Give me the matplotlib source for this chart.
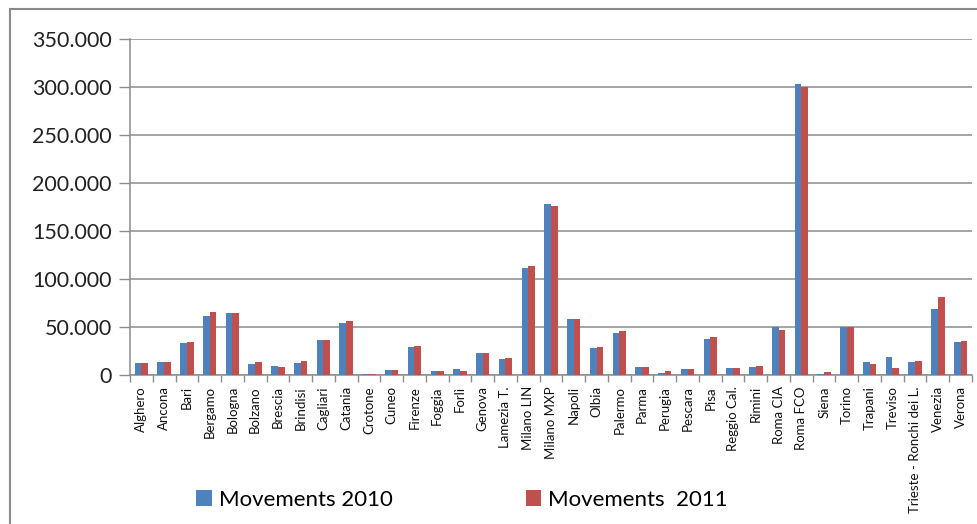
import matplotlib
matplotlib.use("Agg")
import matplotlib.pyplot as plt
import numpy as np
from matplotlib.ticker import FuncFormatter, FixedLocator
from matplotlib.patches import Rectangle

plt.rcParams['font.family'] = ['Lato', 'DejaVu Sans']

# Airport movements, 2010 vs 2011
airports = ["Alghero", "Ancona", "Bari", "Bergamo", "Bologna", "Bolzano", "Brescia",
            "Brindisi", "Cagliari", "Catania", "Crotone", "Cuneo", "Firenze", "Foggia",
            "Forlì", "Genova", "Lamezia T.", "Milano LIN", "Milano MXP", "Napoli", "Olbia",
            "Palermo", "Parma", "Perugia", "Pescara", "Pisa", "Reggio Cal.", "Rimini",
            "Roma CIA", "Roma FCO", "Siena", "Torino", "Trapani", "Treviso",
            "Trieste - Ronchi dei L.", "Venezia", "Verona"]

mov_2010 = [12000, 14000, 33000, 61500, 64200, 11100, 9700, 12200, 36500, 53800,
            1400, 5200, 29500, 3800, 6200, 22600, 16300, 111100, 177800, 58000, 28500,
            43400, 8700, 2400, 6200, 37200, 7600, 8700, 50000, 302800, 1400, 50000,
            13900, 18400, 13900, 68400, 34400]
mov_2011 = [12000, 14000, 34700, 65300, 64200, 13900, 8700, 14900, 36500, 56300,
            1400, 5200, 30500, 3800, 3800, 22600, 17400, 113500, 176400, 58000, 29500,
            45500, 8700, 3800, 6200, 39200, 7600, 9700, 46900, 300300, 2800, 50000,
            11100, 7600, 14900, 80900, 35700]

yticks = [0, 50000, 100000, 150000, 200000, 250000, 300000, 350000]

blue = "#4F81BD"
red = "#C0504D"
grey = "#8C8C8C"

fig = plt.figure(figsize=(9.78, 5.24), dpi=100)
ax = fig.add_axes([130 / 978, 1 - 375 / 524, 842 / 978, 336 / 524])

x = np.arange(len(airports))
w = 0.295
ax.bar(x - w / 2, mov_2010, width=w, color=blue, label="Movements 2010", zorder=3)
ax.bar(x + w / 2, mov_2011, width=w, color=red, label="Movements  2011", zorder=3)

ax.set_xlim(-0.5, len(airports) - 0.5)
ax.set_ylim(0, 350000)
ax.set_yticks(yticks)
ax.yaxis.set_major_formatter(FuncFormatter(lambda v, p: f"{int(v):,}".replace(",", ".")))
ax.yaxis.grid(True, color=grey, linewidth=1.1, zorder=0)
ax.tick_params(axis='y', labelsize=15.5, colors=grey, labelcolor="#222222", length=8, width=1, pad=5)

# category boundary ticks, labels centred between them
ax.xaxis.set_major_locator(FixedLocator(np.arange(-0.5, len(airports), 1.0)))
ax.xaxis.set_major_formatter(plt.NullFormatter())
ax.xaxis.set_minor_locator(FixedLocator(x))
ax.set_xticklabels(airports, minor=True, rotation=90, fontsize=9.5)
ax.tick_params(axis='x', which='major', length=5, width=1, colors=grey)
ax.tick_params(axis='x', which='minor', length=0, pad=8, labelcolor="#111111")

for s in ["top", "right"]:
    ax.spines[s].set_visible(False)
for s in ["left", "bottom"]:
    ax.spines[s].set_color(grey)
    ax.spines[s].set_linewidth(1.1)

# chart area border (left and top edges visible)
fig.patches.append(Rectangle((10 / 978, -0.1), 1.2, 1.1 - 9 / 524,
                             transform=fig.transFigure, fill=False,
                             edgecolor="#8A8A8A", linewidth=1.5))

fig.legend(loc="center", bbox_to_anchor=(462 / 978, 1 - 500 / 524), ncol=2,
           frameon=False, fontsize=16, handlelength=0.7, handleheight=0.7,
           handletextpad=0.3, columnspacing=6.0)

fig.savefig("out.png", dpi=100)
